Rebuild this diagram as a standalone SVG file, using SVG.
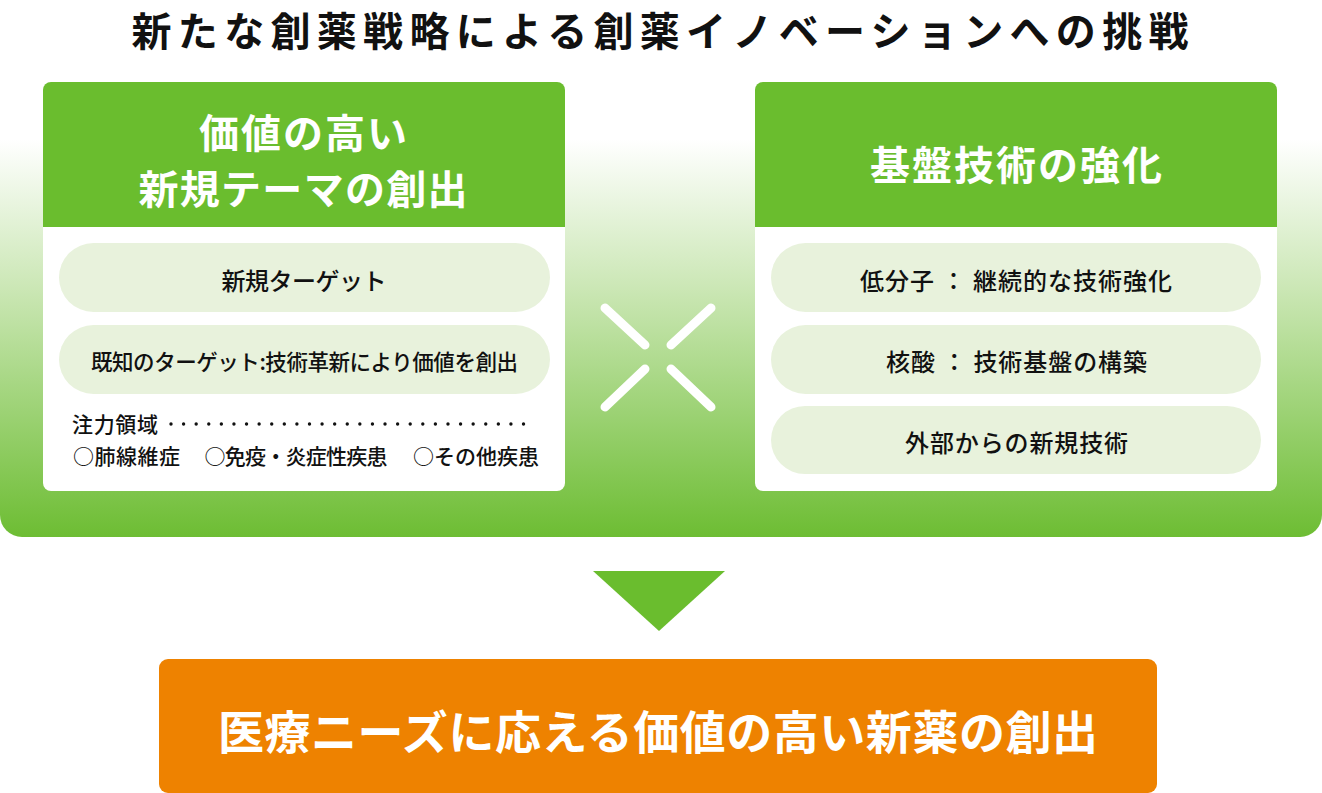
<svg xmlns="http://www.w3.org/2000/svg" width="1322" height="793" viewBox="0 0 1322 793">
<defs>
<linearGradient id="bg" x1="0" y1="40" x2="0" y2="537" gradientUnits="userSpaceOnUse">
<stop offset="0" stop-color="#ffffff"/>
<stop offset="0.2" stop-color="#ffffff"/>
<stop offset="0.5" stop-color="#cbe7b5"/>
<stop offset="1" stop-color="#6dbd33"/>
</linearGradient>
<style>
text{font-family:"Noto Sans CJK JP","Noto Sans",sans-serif;dominant-baseline:central}
.title{font-size:40px;font-weight:700;fill:#111111;text-anchor:middle}
.head{font-size:40px;font-weight:700;fill:#ffffff;text-anchor:middle}
.pill{fill:#e8f2dc}
.pt{font-size:24px;font-weight:500;fill:#111111;text-anchor:middle}
.ft{font-size:21px;font-weight:500;fill:#111111}
.cross{stroke:#ffffff;stroke-width:9;stroke-linecap:round;fill:none}
.big{font-size:46px;font-weight:700;fill:#ffffff;text-anchor:middle}
</style>
</defs>
<rect x="0" y="40" width="1322" height="497" rx="22" fill="url(#bg)"/>
<text class="title" x="660" y="29" textLength="1057" lengthAdjust="spacing">新たな創薬戦略による創薬イノベーションへの挑戦</text>

<g id="left-card">
<rect x="43" y="82" width="522" height="409" rx="8" fill="#ffffff"/>
<path d="M43 227 V90 a8 8 0 0 1 8 -8 H557 a8 8 0 0 1 8 8 V227 Z" fill="#6abd2e"/>
<text class="head" x="303" y="131" textLength="208" lengthAdjust="spacing">価値の高い</text>
<text class="head" x="303" y="187" textLength="329" lengthAdjust="spacing">新規テーマの創出</text>
<g id="pill-l1"><rect class="pill" x="59" y="243" width="491" height="69" rx="34.5"/>
<text class="pt" x="304" y="279" textLength="165" lengthAdjust="spacing">新規ターゲット</text></g>
<g id="pill-l2"><rect class="pill" x="59" y="325" width="491" height="69" rx="34.5"/>
<text class="pt" x="304.5" y="360" style="font-size:21.5px" textLength="427" lengthAdjust="spacing">既知のターゲット:技術革新により価値を創出</text></g>
<g id="focus">
<text class="ft" x="72" y="423" textLength="86" lengthAdjust="spacing">注力領域</text>
<line x1="171" y1="424" x2="536" y2="424" stroke="#111111" stroke-width="3.4" stroke-linecap="round" stroke-dasharray="0 12.59"/>
<text class="ft" x="73" y="455" textLength="107" lengthAdjust="spacing">○肺線維症</text>
<text class="ft" x="204.5" y="455" textLength="183" lengthAdjust="spacing">○免疫・炎症性疾患</text>
<text class="ft" x="413" y="455" textLength="126" lengthAdjust="spacing">○その他疾患</text>
</g>
</g>

<g id="right-card">
<rect x="755" y="82" width="522" height="409" rx="8" fill="#ffffff"/>
<path d="M755 227 V90 a8 8 0 0 1 8 -8 H1269 a8 8 0 0 1 8 8 V227 Z" fill="#6abd2e"/>
<text class="head" x="1016" y="163" textLength="292" lengthAdjust="spacing">基盤技術の強化</text>
<g id="pill-r1"><rect class="pill" x="771" y="243" width="490" height="69" rx="34.5"/>
<text class="pt" x="1016" y="279" textLength="312" lengthAdjust="spacing">低分子 ： 継続的な技術強化</text></g>
<g id="pill-r2"><rect class="pill" x="771" y="325" width="490" height="69" rx="34.5"/>
<text class="pt" x="1016.5" y="360" textLength="261" lengthAdjust="spacing">核酸 ： 技術基盤の構築</text></g>
<g id="pill-r3"><rect class="pill" x="771" y="406" width="490" height="68" rx="34"/>
<text class="pt" x="1016.5" y="441" textLength="223" lengthAdjust="spacing">外部からの新規技術</text></g>
</g>

<g id="cross">
<line class="cross" x1="605" y1="308" x2="645" y2="345"/>
<line class="cross" x1="711" y1="308" x2="671" y2="345"/>
<line class="cross" x1="645" y1="369" x2="605" y2="407"/>
<line class="cross" x1="671" y1="369" x2="711" y2="407"/>
</g>

<g id="connectors">
<polygon points="593,571 725,571 659,631" fill="#6abd2e"/>
</g>

<g id="result">
<rect x="159" y="659" width="998" height="134" rx="9" fill="#ee8200"/>
<text class="big" x="658" y="729" textLength="880" lengthAdjust="spacing">医療ニーズに応える価値の高い新薬の創出</text>
</g>
</svg>
